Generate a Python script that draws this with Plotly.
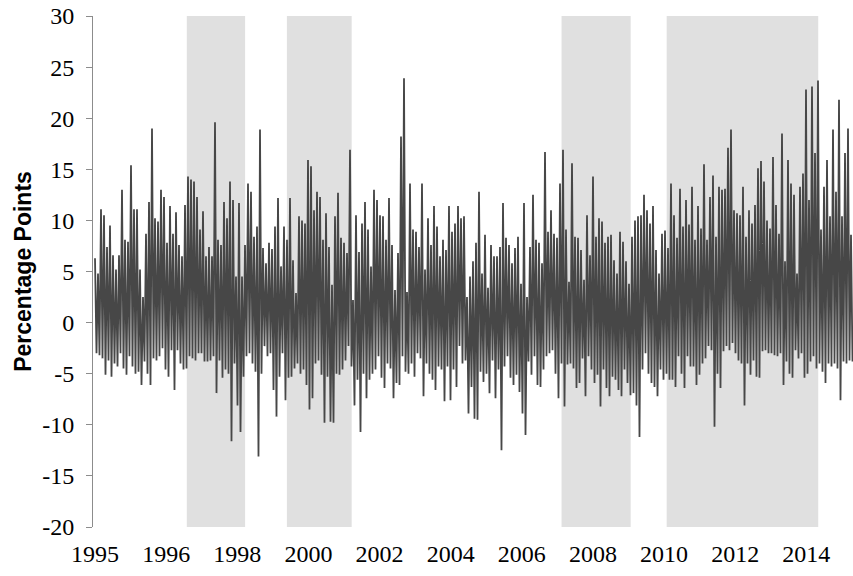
import plotly.graph_objects as go

# Peak (upper) and trough (lower) readings, semi-monthly pairs, from Jan 1995
peaks = [
    6.3, 4.8, 11.1, 10.5, 7.4, 9.5, 6.6, 5.2, 6.6, 13.0, 8.1, 7.9, 15.4, 11.1, 11.1, 5.2, 2.5, 8.7, 11.8, 19.0, 10.2, 9.9, 13.0, 12.3, 7.8, 11.4, 8.7, 10.8, 7.6, 6.5, 11.5, 14.3,
    14.0, 13.8, 12.3, 9.1, 10.9, 6.5, 7.4, 6.5, 19.6, 8.1, 7.6, 11.8, 10.2, 13.8, 12.0, 4.5, 11.7, 4.5, 7.6, 13.6, 12.8, 8.4, 9.4, 18.9, 7.3, 5.8, 7.8, 7.2, 9.4, 12.2, 5.5, 9.4,
    8.1, 12.2, 6.1, 2.9, 10.4, 10.0, 9.7, 15.9, 15.3, 11.0, 12.8, 12.3, 8.1, 10.7, 7.4, 3.7, 10.4, 12.7, 8.3, 7.8, 6.8, 16.9, 2.2, 10.5, 6.9, 9.7, 11.8, 9.1, 5.5, 13.0, 12.0, 10.5,
    10.4, 8.1, 12.2, 7.6, 3.2, 6.8, 18.2, 23.9, 3.0, 13.6, 9.1, 8.9, 7.4, 13.6, 5.2, 10.2, 7.6, 11.4, 9.4, 6.5, 8.1, 7.1, 11.4, 8.9, 9.7, 11.4, 10.2, 10.4, 2.5, 4.5, 6.0, 7.8,
    12.8, 4.8, 8.6, 3.4, 7.6, 6.5, 6.5, 7.4, 11.7, 8.3, 7.6, 5.8, 7.3, 8.4, 3.8, 11.7, 2.5, 7.4, 12.5, 8.1, 7.8, 5.8, 16.7, 8.9, 11.0, 8.7, 8.3, 13.6, 16.9, 9.1, 4.0,
    15.6, 8.4, 8.3, 7.1, 4.2, 10.5, 6.6, 14.3, 8.4, 10.2, 9.9, 7.8, 8.4, 8.6, 6.1, 4.8, 8.9, 7.9, 6.0, 3.8, 8.4, 10.0, 10.4, 10.5, 12.5, 11.0, 9.7, 11.4, 7.1, 4.8, 8.7, 9.0,
    7.3, 13.6, 10.5, 8.3, 13.1, 9.4, 12.0, 9.6, 13.3, 8.1, 11.4, 9.2, 15.5, 8.1, 12.3, 14.4, 8.4, 13.3, 13.0, 13.1, 17.1, 18.9, 11.0, 10.7, 10.5, 13.3, 8.4, 11.0, 9.7, 11.5, 15.1, 15.8,
    13.8, 10.0, 9.2, 16.2, 11.5, 8.7, 18.5, 6.0, 15.9, 13.6, 12.5, 4.8, 13.3, 14.6, 22.8, 12.0, 23.1, 16.6, 23.7, 9.1, 13.3, 15.9, 10.4, 18.9, 12.8, 21.8, 10.4, 16.6, 19.0, 8.6,
]
troughs = [
    -3.0, -3.2, -3.5, -5.1, -3.7, -5.3, -4.0, -4.3, -3.0, -4.5, -5.1, -3.3, -4.3, -5.0, -4.8, -6.1, -3.8, -5.0, -6.1, -3.5, -3.7, -3.3, -2.5, -4.6, -5.3, -2.7, -6.6, -2.7, -4.0, -4.6, -4.5, -3.3,
    -3.5, -3.7, -3.0, -3.0, -3.8, -3.8, -3.7, -3.3, -6.9, -3.7, -5.4, -4.6, -5.0, -11.6, -4.0, -8.1, -10.7, -5.3, -3.3, -3.0, -4.0, -4.8, -13.1, -5.0, -2.3, -3.3, -3.0, -6.6, -9.2, -5.3, -3.0, -7.6,
    -5.4, -5.3, -4.5, -4.0, -5.0, -4.6, -6.1, -8.5, -7.4, -4.0, -3.7, -5.1, -9.8, -5.3, -9.7, -9.8, -5.0, -5.1, -4.6, -3.7, -2.3, -4.3, -8.1, -5.6, -10.7, -5.0, -7.4, -5.6, -5.0, -4.6, -3.3, -5.4,
    -6.4, -4.0, -4.5, -7.4, -5.9, -6.1, -3.3, -4.8, -5.0, -4.0, -5.3, -3.0, -3.5, -7.2, -4.0, -5.0, -5.6, -6.6, -4.3, -4.6, -7.7, -4.3, -7.6, -4.6, -6.3, -2.3, -4.0, -3.7, -8.9, -6.3, -9.4, -9.5,
    -4.8, -5.8, -5.0, -6.9, -3.7, -7.4, -4.6, -12.5, -4.3, -3.3, -5.4, -6.1, -5.1, -6.8, -8.9, -11.0, -3.8, -5.1, -3.3, -6.1, -6.3, -4.6, -3.3, -3.0, -2.7, -5.0, -7.4, -4.0, -8.2, -4.1, -4.0,
    -4.5, -6.4, -5.9, -3.5, -7.2, -3.3, -4.6, -5.9, -5.1, -8.2, -4.6, -6.4, -7.2, -5.3, -5.6, -6.6, -7.2, -4.6, -5.9, -7.1, -6.9, -8.1, -11.2, -4.6, -3.0, -5.0, -5.9, -6.3, -7.2, -4.6, -5.6, -5.0,
    -5.6, -5.6, -6.3, -3.3, -5.0, -6.4, -3.3, -4.3, -4.3, -6.1, -5.1, -4.0, -3.5, -2.3, -2.7, -10.2, -5.0, -6.4, -2.8, -2.3, -2.7, -2.0, -3.0, -3.7, -4.0, -8.1, -4.0, -5.1, -3.7, -5.3, -5.4, -2.8,
    -2.7, -3.0, -3.0, -3.2, -3.3, -3.0, -6.1, -3.8, -5.0, -5.4, -2.7, -3.5, -3.0, -5.4, -5.0, -3.8, -3.3, -4.5, -4.0, -4.8, -5.9, -4.0, -4.3, -4.0, -4.5, -7.6, -3.8, -4.0, -3.7, -3.8,
]

start_year = 1995.0
obs_per_year = 24  # semi-monthly observations

x_tick_labels = ["1995", "1996", "1998", "2000", "2002", "2004", "2006", "2008", "2010", "2012", "2014"]
tick_step_years = 1.976

y_tick_values = [-20, -15, -10, -5, 0, 5, 10, 15, 20, 25, 30]
y_tick_labels = ["-20", "-15", "-10", "-5", "0", "5", "10", "15", "20", "25", "30"]

shaded_periods = [
    (1997.55, 1999.17),
    (2000.33, 2002.13),
    (2007.96, 2009.88),
    (2010.88, 2015.09),
]

values = []
for p, t in zip(peaks, troughs):
    values.extend([p, t])
x = [start_year + i / obs_per_year for i in range(len(values))]

fig = go.Figure()
fig.add_trace(go.Scatter(
    x=x, y=values, mode="lines",
    line=dict(color="#474747", width=1.8),
    showlegend=False, hoverinfo="skip",
))

for a, b in shaded_periods:
    fig.add_shape(type="rect", xref="x", yref="paper", x0=a, x1=b, y0=0, y1=1,
                  fillcolor="#e0e0e0", line=dict(width=0), layer="below")

fig.update_layout(
    width=853, height=576,
    margin=dict(l=93, r=0, t=16, b=49),
    paper_bgcolor="white", plot_bgcolor="white",
    font=dict(family="Liberation Serif", size=24, color="black"),
    showlegend=False,
)
fig.update_xaxes(
    range=[start_year - 2 / 36, start_year + 758 / 36],
    tickvals=[start_year + k * tick_step_years for k in range(len(x_tick_labels))],
    ticktext=x_tick_labels,
    showgrid=False, zeroline=False, showline=False, ticks="",
    tickfont=dict(family="Liberation Serif", size=24, color="black"),
    ticklabelstandoff=10, automargin=False,
)
fig.update_yaxes(
    range=[-20, 30], tickvals=y_tick_values, ticktext=y_tick_labels,
    showgrid=False, zeroline=False,
    showline=True, linecolor="#8c8c8c", linewidth=1,
    ticks="outside", ticklen=6, tickcolor="#8c8c8c",
    tickfont=dict(family="Liberation Serif", size=24, color="black"),
    ticklabelstandoff=7, automargin=False,
    title=dict(text="<b>Percentage Points</b>",
               font=dict(family="Liberation Sans", size=23, color="black"),
               standoff=4),
)

fig.write_html("out.html", config={"displayModeBar": False})

# remove the browser's default page margin so the figure sits at the window origin
with open("out.html", "r", encoding="utf-8") as f:
    html = f.read()
html = html.replace("<head>", "<head><style>html,body{margin:0;padding:0;overflow:hidden;}</style>", 1)
with open("out.html", "w", encoding="utf-8") as f:
    f.write(html)
